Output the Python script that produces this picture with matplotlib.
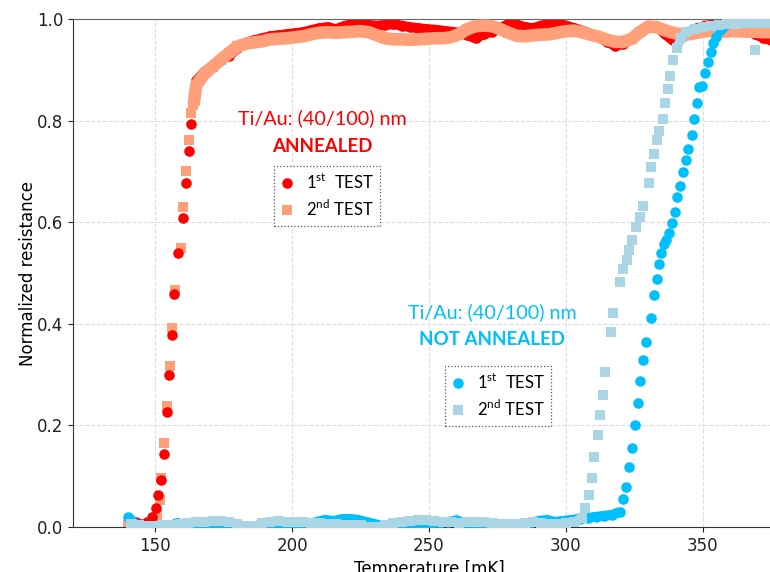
import matplotlib
matplotlib.use('Agg')
import matplotlib.pyplot as plt
import numpy as np

plt.rcParams['mathtext.fontset'] = 'custom'
plt.rcParams['mathtext.rm'] = 'Lato'
plt.rcParams['mathtext.bf'] = 'Lato:bold'

# --- annealed, 1st test (red circles) ---
ann1_T = [141, 143, 145, 147, 148.8, 150.3, 151.2, 152.2, 153.1, 154.3, 155.2, 156.2,
          157.0, 158.3, 160.1, 161.3, 162.3, 163.1, 164.0]
ann1_R = [0.006, 0.010, 0.005, 0.010, 0.020, 0.038, 0.063, 0.093, 0.144, 0.227, 0.299, 0.377,
          0.458, 0.540, 0.608, 0.678, 0.740, 0.793, 0.835]

# --- annealed, 2nd test (salmon squares) ---
ann2_T = [140, 144, 148, 149.5, 150.5, 151.6, 152.3, 153.4, 154.4, 155.4, 156.3, 157.4,
          159.4, 160.3, 161.4, 162.4, 163.1]
ann2_R = [0.004, 0.003, 0.005, 0.012, 0.024, 0.053, 0.096, 0.166, 0.238, 0.316, 0.392, 0.467,
          0.549, 0.629, 0.700, 0.762, 0.814]

# plateau of both annealed runs (dense sampling, drawn as a band)
plat_T = [164, 165, 168, 171, 174, 177, 180, 183, 186, 189, 192, 195, 198, 201, 204, 207, 210,
          213, 216, 219, 222, 225, 228, 231, 234, 237, 240, 243, 246, 249, 252, 255, 258,
          261, 264, 267, 270, 273, 276, 279, 282, 285, 288, 291, 294, 297, 300, 303, 306,
          309, 312, 315, 318, 321, 324, 327, 330, 333, 336, 339, 342, 345, 348, 351, 354,
          357, 360, 363, 366, 369, 372, 375, 378, 381]
plat1_R = [0.835, 0.878, 0.896, 0.908, 0.920, 0.928, 0.942, 0.953, 0.958, 0.962, 0.966, 0.968,
           0.970, 0.972, 0.974, 0.978, 0.982, 0.984, 0.980, 0.986, 0.990, 0.988, 0.988, 0.987,
           0.988, 0.990, 0.987, 0.984, 0.982, 0.980, 0.979, 0.977, 0.975, 0.973, 0.968, 0.962,
           0.970, 0.975, 0.982, 0.990, 0.989, 0.984, 0.982, 0.987, 0.991, 0.991, 0.987, 0.982,
           0.977, 0.971, 0.964, 0.955, 0.947, 0.951, 0.962, 0.975, 0.985, 0.986, 0.971, 0.958,
           0.962, 0.972, 0.982, 0.987, 0.989, 0.987, 0.985, 0.982, 0.977, 0.970, 0.963, 0.958,
           0.956, 0.956]
plat2_R = [0.830, 0.870, 0.892, 0.906, 0.920, 0.933, 0.946, 0.951, 0.954, 0.956, 0.960, 0.961, 0.962,
           0.964, 0.966, 0.970, 0.973, 0.974, 0.973, 0.974, 0.975, 0.976, 0.974, 0.968, 0.962,
           0.960, 0.960, 0.959, 0.960, 0.961, 0.962, 0.962, 0.964, 0.970, 0.980, 0.986, 0.987,
           0.986, 0.980, 0.973, 0.967, 0.966, 0.968, 0.969, 0.970, 0.973, 0.976, 0.977, 0.974,
           0.969, 0.965, 0.959, 0.955, 0.955, 0.961, 0.974, 0.985, 0.984, 0.978, 0.973, 0.970,
           0.970, 0.973, 0.976, 0.976, 0.975, 0.976, 0.976, 0.975, 0.975, 0.974, 0.974, 0.974, 0.974]

# --- not annealed, 1st test (blue circles) ---
low_T = [140, 143, 146, 149, 152, 155, 158, 161, 164, 167, 170, 173, 176, 179, 182, 185,
         188, 191, 194, 197, 200, 203, 206, 209, 212, 215, 218, 221, 224, 227, 230, 233,
         236, 239, 242, 245, 248, 251, 254, 257, 260, 263, 266, 269, 272, 275, 278, 281,
         284, 287, 290, 293, 296, 299, 302, 305, 308, 311, 314, 317, 319.7]
na1_low = [0.020, 0.005, 0.001, -0.002, -0.004, 0.000, 0.008, 0.003, 0.001, 0.000, 0.001, 0.002,
           0.001, 0.000, -0.002, -0.002, 0.000, 0.001, 0.002, 0.003, 0.004, 0.005, 0.006, 0.010,
           0.014, 0.012, 0.015, 0.016, 0.014, 0.010, 0.006, 0.002, 0.000, 0.001, 0.002, 0.003,
           0.004, 0.005, 0.008, 0.010, 0.013, 0.008, 0.004, 0.003, 0.004, 0.005, 0.004, 0.003,
           0.005, 0.008, 0.012, 0.014, 0.010, 0.012, 0.014, 0.016, 0.018, 0.020, 0.022, 0.024, 0.030]
na1_T = [320.9, 322.1, 323.1, 324.1, 325.1, 326.2, 327.0, 328.0, 329.2, 330.9, 332.2,
         333.1, 333.9, 334.6, 335.9, 336.7, 337.7, 338.9, 339.8, 340.7, 341.6, 342.8, 343.8,
         344.6, 345.9, 346.7, 347.7, 348.5, 349.7, 350.7, 351.9, 352.9, 353.8, 354.7, 356.2]
na1_R = [0.055, 0.079, 0.118, 0.155, 0.201, 0.244, 0.288, 0.329, 0.365, 0.412, 0.457,
         0.488, 0.518, 0.540, 0.558, 0.565, 0.579, 0.599, 0.621, 0.650, 0.672, 0.699, 0.722,
         0.745, 0.772, 0.803, 0.835, 0.867, 0.868, 0.894, 0.916, 0.936, 0.952, 0.965, 0.978]
na1_top_T = [356.2, 357.5, 359, 362, 365, 368, 371, 374, 377, 381]
na1_top = [0.978, 0.985, 0.990, 0.993, 0.995, 0.996, 0.997, 0.997, 0.997, 0.997]

# --- not annealed, 2nd test (light blue squares) ---
low2_T = [141, 144, 147, 150, 153, 156, 159, 162, 165, 168, 171, 174, 177, 180, 183, 186,
          189, 192, 195, 198, 201, 204, 207, 210, 213, 216, 219, 222, 225, 228, 231, 234,
          237, 240, 243, 246, 249, 252, 255, 258, 261, 264, 267, 270, 273, 276, 279, 282,
          285, 288, 291, 294, 297, 300, 303, 306]
na2_low = [0.005, 0.003, 0.002, 0.002, 0.003, 0.004, 0.006, 0.008, 0.009, 0.010, 0.011, 0.011,
           0.010, 0.006, 0.001, 0.001, 0.007, 0.010, 0.012, 0.010, 0.009, 0.010, 0.008, 0.008,
           0.006, 0.005, 0.004, 0.004, 0.003, 0.000, 0.000, 0.004, 0.008, 0.010, 0.012, 0.013,
           0.013, 0.012, 0.010, 0.009, 0.008, 0.009, 0.010, 0.009, 0.008, 0.006, 0.006, 0.005,
           0.007, 0.009, 0.008, 0.006, 0.006, 0.007, 0.010, 0.018]
na2_T = [306.9, 308.5, 309.4, 310.3, 311.6, 312.4, 313.4, 314.4, 316.3, 317.3, 319.7, 321.0,
         322.2, 323.1, 324.0, 325.5, 327.0, 328.2, 330.2, 331.0, 332.2, 333.3, 334.1, 335.3,
         336.3, 337.1, 337.9, 339.2, 340.4, 369]
na2_R = [0.037, 0.063, 0.096, 0.137, 0.181, 0.220, 0.260, 0.305, 0.384, 0.421, 0.483, 0.507,
         0.525, 0.545, 0.565, 0.591, 0.611, 0.632, 0.678, 0.709, 0.734, 0.762, 0.780, 0.804,
         0.835, 0.862, 0.888, 0.919, 0.942, 0.939]
na2_top_T = [340.4, 342, 344, 347, 350, 353, 356, 359, 362, 365, 368, 371, 374, 377, 381]
na2_top = [0.942, 0.962, 0.975, 0.980, 0.984, 0.987, 0.988, 0.990, 0.990, 0.992, 0.993, 0.993,
           0.993, 0.993, 0.993]

RED = '#ff0000'
SALMON = '#ffa07a'
BLUE = '#00bfff'
LBLUE = '#a9d5e4'

fig = plt.figure(figsize=(7.7, 5.72), dpi=100)
ax = fig.add_axes([73 / 770, 45 / 572, 712 / 770, 508 / 572])

ms_c = 7.6
ms_s = 7.0


def band(x, y, color, marker, ms, z, k=0.95):
    # densely measured stretch: marker trail drawn as a thick stroke
    ax.plot(x, y, '-', color=color, lw=ms * k, solid_capstyle='butt',
            solid_joinstyle='round', zorder=z)
    ax.plot(x, y, marker, color=color, ms=ms, mew=0, zorder=z)


band(plat_T, plat1_R, RED, 'o', ms_c, 2)
h1, = ax.plot(ann1_T, ann1_R, 'o', color=RED, ms=ms_c, mew=0, zorder=2.5)
band(plat_T, plat2_R, SALMON, 's', ms_s, 3, k=1.3)
h2, = ax.plot(ann2_T, ann2_R, 's', color=SALMON, ms=ms_s, mew=0, zorder=2.2)

band(low_T, na1_low, BLUE, 'o', ms_c, 4)
band(na1_top_T, na1_top, BLUE, 'o', ms_c, 4)
h3, = ax.plot(na1_T, na1_R, 'o', color=BLUE, ms=ms_c, mew=0, zorder=4)
band(low2_T, na2_low, LBLUE, 's', ms_s, 5)
band(na2_top_T, na2_top, LBLUE, 's', ms_s, 5)
h4, = ax.plot(na2_T, na2_R, 's', color=LBLUE, ms=ms_s, mew=0, zorder=5)

ax.set_xlim(120, 380)
ax.set_ylim(0, 1.0)
ax.set_xticks([150, 200, 250, 300, 350])
ax.set_yticks([0.0, 0.2, 0.4, 0.6, 0.8, 1.0])
ax.tick_params(labelsize=12, colors='#222222')
ax.grid(True, ls='--', color='#dddddd', lw=0.8)
ax.set_axisbelow(True)
for s in ['left', 'bottom']:
    ax.spines[s].set_color('#333333')
ax.spines['top'].set_color('#666666')
ax.set_xlabel('Temperature [mK]', fontsize=12, labelpad=4)
ax.set_ylabel('Normalized resistance', fontsize=12, labelpad=0)

tfont = dict(family='Lato', ha='center', va='center')
ax.text(211, 0.805, 'Ti/Au: (40/100) nm', color=RED, fontsize=14.2, **tfont)
ax.text(211, 0.749, 'ANNEALED', color=RED, fontweight='bold', fontsize=13.5, **tfont)
ax.text(273, 0.423, 'Ti/Au: (40/100) nm', color=BLUE, fontsize=14.2, **tfont)
ax.text(273, 0.370, 'NOT ANNEALED', color=BLUE, fontweight='bold', fontsize=13.5, **tfont)

lkw = dict(prop={'family': 'Lato', 'size': 12}, handlelength=0.8, handletextpad=0.7,
           borderpad=0.4, labelspacing=0.4, borderaxespad=0, fancybox=False,
           framealpha=1, edgecolor='#555555', loc='upper left',
           bbox_transform=fig.transFigure)
leg1 = ax.legend([h1, h2], ['1$^{\\rm st}$  TEST', '2$^{\\rm nd}$ TEST'],
                 bbox_to_anchor=(274 / 770, 1 - 166 / 572), **lkw)
leg1.get_frame().set_linestyle(':')
leg1.get_frame().set_linewidth(0.9)
ax.add_artist(leg1)
leg2 = ax.legend([h3, h4], ['1$^{\\rm st}$  TEST', '2$^{\\rm nd}$ TEST'],
                 bbox_to_anchor=(445 / 770, 1 - 366 / 572), **lkw)
leg2.get_frame().set_linestyle(':')
leg2.get_frame().set_linewidth(0.9)

fig.savefig('out.png', dpi=100)
plt.close(fig)
